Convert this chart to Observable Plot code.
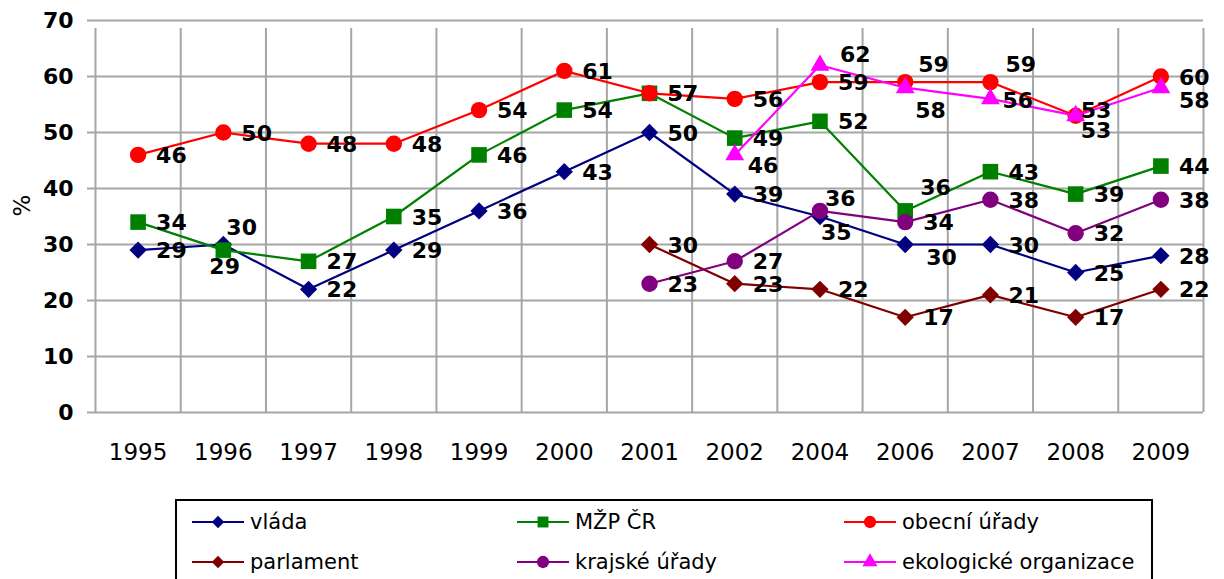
<!DOCTYPE html>
<html><head><meta charset="utf-8">
<script src="https://cdn.jsdelivr.net/npm/d3@7"></script>
<script src="https://cdn.jsdelivr.net/npm/@observablehq/plot@0.6"></script>
<style>
body{margin:0;background:#fff;overflow:hidden;font-family:"DejaVu Sans",sans-serif;}
#chart{position:relative;width:1224px;height:579px;}
#legend{position:absolute;left:175px;top:499px;width:978px;height:95px;border:2px solid #000;box-sizing:border-box;background:#fff;}
.item{position:absolute;display:flex;align-items:center;font-size:21px;height:30px;color:#000;white-space:nowrap;}
.item svg{margin-right:6px;}
</style></head><body><div id="chart"><div id="legend"></div></div>
<script>
// ---- data ----
const years = ["1995","1996","1997","1998","1999","2000","2001","2002","2004","2006","2007","2008","2009"];
const vlada     = [29,30,22,29,36,43,50,39,35,30,30,25,28];
const mzp       = [34,29,27,35,46,54,57,49,52,36,43,39,44];
const obecni    = [46,50,48,48,54,61,57,56,59,59,59,53,60];
const parlament = [null,null,null,null,null,null,30,23,22,17,21,17,22];
const krajske   = [null,null,null,null,null,null,23,27,36,34,38,32,38];
const ekolog    = [null,null,null,null,null,null,null,46,62,58,56,53,58];
const seriesNames = ["vláda","MŽP ČR","obecní úřady","parlament","krajské úřady","ekologické organizace"];
const yTicks = [0,10,20,30,40,50,60,70];

// ---- styles ----
const seriesValues = [vlada, mzp, obecni, parlament, krajske, ekolog];
const colors = ["#000080","#008000","#ff0000","#800000","#800080","#ff00ff"];
const symbols = ["diamond2","square","circle","diamond2","circle","triangle"];
const radii = [7.8, 8.8, 8.2, 7.8, 8.2, 7];
const legendScale = [0.72, 0.7, 0.75, 0.72, 0.75, 0.8];
// label placement tweaks (dx, dy); default right of point
const labelDefault = [18, 1];
const labelOffsets = {
  "vláda|1996":[3,-17], "vláda|2004":[1,16], "vláda|2006":[21,13],
  "MŽP ČR|1996":[-14,17], "MŽP ČR|2006":[15,-23],
  "obecní úřady|2006":[13,-17], "obecní úřady|2007":[15,-17], "obecní úřady|2008":[5,-5],
  "krajské úřady|2004":[5,-12],
  "ekologické organizace|2002":[13,11], "ekologické organizace|2004":[20,-10],
  "ekologické organizace|2006":[10,23], "ekologické organizace|2007":[12,2],
  "ekologické organizace|2008":[5,15], "ekologické organizace|2009":[18,13]
};

const series = seriesNames.map((name, k) => ({
  name, color: colors[k], symbol: symbols[k], r: radii[k], ls: legendScale[k],
  rows: seriesValues[k].map((v, i) => ({name, i, year: years[i], value: v})).filter(d => d.value != null)
}));

const marks = [];
const grid = "#a6a6a6";
marks.push(Plot.ruleY(yTicks, {stroke: grid, strokeWidth: 2, insetLeft: -8}));
marks.push(Plot.ruleX(d3.range(-0.5, years.length, 1), {y1: 0, y2: 70, stroke: grid, strokeWidth: 2, insetBottom: -8}));
marks.push(Plot.axisY({ticks: yTicks, tickSize: 0, tickPadding: 22, fontSize: 22, fontWeight: "bold", label: null, fill: "#000"}));
marks.push(Plot.axisX({ticks: d3.range(years.length), tickFormat: i => years[i], tickSize: 0, tickPadding: 31, fontSize: 23, label: null, fill: "#000"}));
marks.push(Plot.text(["%"], {frameAnchor: "left", dx: -73, rotate: -90, fontSize: 23, fill: "#000"}));

for (const s of series) {
  marks.push(Plot.line(s.rows, {x: "i", y: "value", stroke: s.color, strokeWidth: 2.2}));
  marks.push(Plot.dot(s.rows, {x: "i", y: "value", symbol: s.symbol, r: s.r, fill: s.color, stroke: "none"}));
}
// labels grouped by offset
const groups = new Map();
for (const s of series) for (const d of s.rows) {
  const off = labelOffsets[d.name + "|" + d.year] || labelDefault;
  const key = off.join(",");
  if (!groups.has(key)) groups.set(key, {off, rows: []});
  groups.get(key).rows.push(d);
}
for (const {off, rows} of groups.values()) {
  marks.push(Plot.text(rows, {x: "i", y: "value", text: d => String(d.value), dx: off[0], dy: off[1],
    textAnchor: "start", fontWeight: "bold", fontSize: 22, fill: "#000"}));
}

const chart = Plot.plot({
  width: 1224, height: 495,
  marginLeft: 95, marginRight: 21, marginTop: 20, marginBottom: 83,
  x: {type: "linear", domain: [-0.5, years.length - 0.5]},
  y: {type: "linear", domain: [0, 70]},
  style: {fontFamily: "DejaVu Sans", fontSize: "22px", background: "#fff", color: "#000", overflow: "visible"},
  marks
});
document.getElementById("chart").prepend(chart);

// legend
const legend = d3.select("#legend");
const pos = [[15,6],[340,6],[667,6],[15,46],[340,46],[667,46]];
series.forEach((s, k) => {
  const it = legend.append("div").attr("class","item").style("left", pos[k][0]+"px").style("top", pos[k][1]+"px");
  const svg = it.append("svg").attr("width", 52).attr("height", 30);
  svg.append("line").attr("x1",0).attr("x2",52).attr("y1",15).attr("y2",15).attr("stroke", s.color).attr("stroke-width",2);
  const sym = {diamond2: d3.symbolDiamond2, square: d3.symbolSquare, circle: d3.symbolCircle, triangle: d3.symbolTriangle}[s.symbol];
  const size = Math.PI * (s.r * s.ls) ** 2;
  svg.append("path").attr("transform","translate(26,15)").attr("d", d3.symbol(sym, size)()).attr("fill", s.color);
  it.append("span").text(s.name);
});
</script></body></html>
